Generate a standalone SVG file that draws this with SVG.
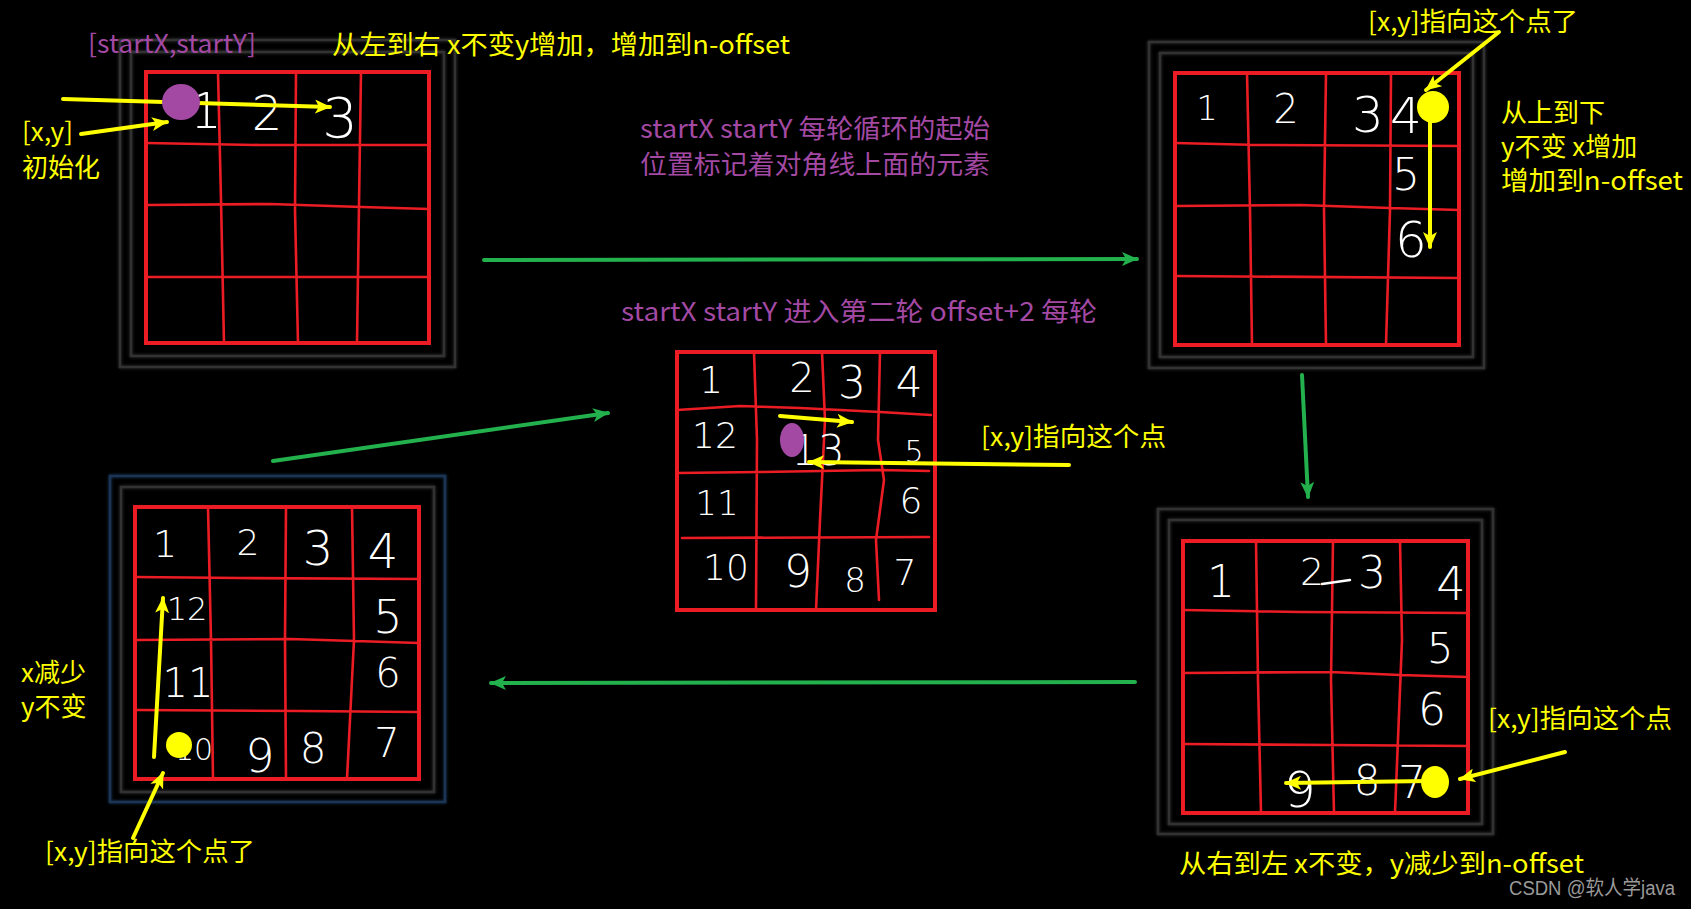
<svg xmlns="http://www.w3.org/2000/svg" width="1691" height="909" viewBox="0 0 1691 909">
<defs>
<filter id="glow" x="-10%" y="-10%" width="120%" height="120%">
<feGaussianBlur in="SourceGraphic" stdDeviation="1.5" result="b"/>
<feMerge><feMergeNode in="b"/><feMergeNode in="SourceGraphic"/></feMerge>
</filter>
<marker id="ya" viewBox="0 0 16 14" markerWidth="16" markerHeight="14" refX="15" refY="7" orient="auto" markerUnits="userSpaceOnUse">
<path d="M0,0 L16,7 L0,14 L4,7 z" fill="#ffff00"/>
</marker>
<marker id="ga" viewBox="0 0 16 14" markerWidth="16" markerHeight="14" refX="15" refY="7" orient="auto" markerUnits="userSpaceOnUse">
<path d="M0,0 L16,7 L0,14 L4,7 z" fill="#22b14c"/>
</marker>
</defs>
<style>
.frame{fill:none;stroke:#333333;stroke-width:2.5;filter:url(#glow)}
.frameb{fill:none;stroke:#1c3554;stroke-width:2.5;filter:url(#glow)}
.grid{fill:none;stroke:#ec1c24;stroke-width:4}
.gl{fill:none;stroke:#ec1c24;stroke-width:2.6;stroke-linejoin:round;stroke-linecap:round}
.dg{fill:#ffffff;font-family:"DejaVu Sans","Liberation Sans",sans-serif;font-weight:200;text-anchor:middle}
.ylw{fill:#ffff00;font-family:"Noto Sans CJK SC","Noto Sans",sans-serif;font-size:26px}
.pur{fill:#a349a4;font-family:"Noto Sans CJK SC","Noto Sans",sans-serif;font-size:26px}
.ya{fill:none;stroke:#ffff00;stroke-width:4;stroke-linecap:round;marker-end:url(#ya)}
.ga{fill:none;stroke:#22b14c;stroke-width:4;stroke-linecap:round;marker-end:url(#ga)}
</style>
<rect width="1691" height="909" fill="#000"/>

<g id="panel1">
<rect class="frame" x="120" y="40" width="335" height="327"/>
<rect class="frame" x="131" y="52" width="313" height="304"/>
<rect class="grid" x="146" y="72" width="283" height="271"/>
<path class="gl" d="M218,72 L221,200 L224,343 M296,72 L295,210 L298,343 M361,72 L359,205 L357,343 M146,143 L260,145 L429,145 M146,205 L270,204 L362,207 L429,209 M146,277 L300,277 L429,277"/>
<text class="dg" x="206" y="128" font-size="50">1</text>
<text class="dg" x="267" y="130" font-size="48">2</text>
<text class="dg" x="340" y="137" font-size="56">3</text>
<path class="ya" d="M63,99 L330,107"/>
<path class="ya" d="M81,134 L167,122"/>
<ellipse cx="181" cy="102" rx="19" ry="18" fill="#a349a4"/>
<text class="pur" x="88" y="53" textLength="168" lengthAdjust="spacingAndGlyphs">[startX,startY]</text>
<text class="ylw" x="332" y="54" textLength="458" lengthAdjust="spacingAndGlyphs">从左到右 x不变y增加，增加到n-offset</text>
<text class="ylw" x="22" y="141">[x,y]</text>
<text class="ylw" x="22" y="177">初始化</text>
</g>

<g id="panel2">
<rect class="frame" x="1149" y="42" width="335" height="326"/>
<rect class="frame" x="1160" y="53" width="313" height="304"/>
<rect class="grid" x="1175" y="73" width="284" height="272"/>
<path class="gl" d="M1247,73 L1250,210 L1252,345 M1326,73 L1324,210 L1326,345 M1391,73 L1390,210 L1386,345 M1175,143 L1260,145 L1459,146 M1175,206 L1300,205 L1390,208 L1459,210 M1175,276 L1459,278"/>
<text class="dg" x="1207" y="120" font-size="34">1</text>
<text class="dg" x="1286" y="123" font-size="40">2</text>
<text class="dg" x="1368" y="132" font-size="50">3</text>
<text class="dg" x="1406" y="133" font-size="50">4</text>
<text class="dg" x="1406" y="190" font-size="44">5</text>
<text class="dg" x="1411" y="257" font-size="50">6</text>
<circle cx="1433" cy="107" r="16" fill="#ffff00"/>
<path class="ya" d="M1430,110 L1430,247"/>
<path class="ya" d="M1499,32 L1426,90"/>
<text class="ylw" x="1368" y="31" textLength="210" lengthAdjust="spacingAndGlyphs">[x,y]指向这个点了</text>
<text class="ylw" x="1501" y="122">从上到下</text>
<text class="ylw" x="1501" y="156">y不变 x增加</text>
<text class="ylw" x="1501" y="190" textLength="182" lengthAdjust="spacingAndGlyphs">增加到n-offset</text>
</g>

<g id="center">
<rect class="grid" x="677" y="352" width="258" height="258"/>
<path class="gl" d="M754,352 L757,440 L756,610 M822,352 L825,420 L820,520 L816,610 M880,352 L878,440 L884,480 L876,540 L879,600 M677,410 L740,406 L800,408 L880,412 L931,415 M677,473 L760,472 L880,470 L929,471 M682,538 L929,537"/>
<text class="dg" x="711" y="393" font-size="38">1</text>
<text class="dg" x="802" y="392" font-size="40">2</text>
<text class="dg" x="852" y="398" font-size="44">3</text>
<text class="dg" x="909" y="397" font-size="42">4</text>
<text class="dg" x="715" y="448" font-size="36">12</text>
<text class="dg" x="818" y="465" font-size="42">13</text>
<text class="dg" x="914" y="462" font-size="30">5</text>
<text class="dg" x="717" y="515" font-size="34">11</text>
<text class="dg" x="911" y="513" font-size="36">6</text>
<text class="dg" x="726" y="580" font-size="36">10</text>
<text class="dg" x="798" y="587" font-size="44">9</text>
<text class="dg" x="855" y="592" font-size="34">8</text>
<text class="dg" x="905" y="585" font-size="36">7</text>
<ellipse cx="792" cy="440" rx="12" ry="17" fill="#a349a4"/>
<path class="ya" d="M780,416 L852,422"/>
<path class="ya" d="M1069,465 L809,462"/>
<text class="ylw" x="981" y="446" textLength="185" lengthAdjust="spacingAndGlyphs">[x,y]指向这个点</text>
<text class="pur" x="640" y="138" textLength="350" lengthAdjust="spacingAndGlyphs">startX startY 每轮循环的起始</text>
<text class="pur" x="640" y="174" textLength="350" lengthAdjust="spacingAndGlyphs">位置标记着对角线上面的元素</text>
<text class="pur" x="621" y="321" textLength="476" lengthAdjust="spacingAndGlyphs">startX startY 进入第二轮 offset+2 每轮</text>
</g>

<g id="panel4">
<rect class="frameb" x="110" y="476" width="335" height="326"/>
<rect class="frame" x="121" y="487" width="313" height="305"/>
<rect class="grid" x="135" y="507" width="284" height="272"/>
<path class="gl" d="M208,507 L211,640 L213,779 M286,507 L285,640 L286,779 M352,507 L354,640 L347,779 M135,577 L240,578 L419,579 M135,640 L290,639 L355,641 L419,643 M137,710 L300,711 L419,712"/>
<text class="dg" x="165" y="557" font-size="38">1</text>
<text class="dg" x="248" y="555" font-size="36">2</text>
<text class="dg" x="318" y="565" font-size="48">3</text>
<text class="dg" x="383" y="568" font-size="48">4</text>
<text class="dg" x="187" y="620" font-size="32">12</text>
<text class="dg" x="388" y="633" font-size="46">5</text>
<text class="dg" x="188" y="697" font-size="40">11</text>
<text class="dg" x="388" y="687" font-size="40">6</text>
<text class="dg" x="194" y="760" font-size="30">10</text>
<text class="dg" x="260" y="772" font-size="46">9</text>
<text class="dg" x="313" y="763" font-size="42">8</text>
<text class="dg" x="387" y="757" font-size="40">7</text>
<circle cx="179" cy="745" r="13" fill="#ffff00"/>
<path class="ya" d="M154,757 L163,598"/>
<path class="ya" d="M133,838 L163,773"/>
<text class="ylw" x="21" y="682">x减少</text>
<text class="ylw" x="21" y="716">y不变</text>
<text class="ylw" x="45" y="861" textLength="210" lengthAdjust="spacingAndGlyphs">[x,y]指向这个点了</text>
</g>

<g id="panel3">
<rect class="frame" x="1158" y="509" width="335" height="325"/>
<rect class="frame" x="1169" y="520" width="313" height="304"/>
<rect class="grid" x="1183" y="541" width="285" height="272"/>
<path class="gl" d="M1256,541 L1258,680 L1261,813 M1333,541 L1331,680 L1334,813 M1400,541 L1402,640 L1395,813 M1183,610 L1300,612 L1468,613 M1183,673 L1330,672 L1400,675 L1468,677 M1183,744 L1330,745 L1468,746"/>
<text class="dg" x="1221" y="597" font-size="44">1</text>
<text class="dg" x="1312" y="585" font-size="38">2</text>
<path d="M1322,584 L1350,580" stroke="#fff" stroke-width="2.5" stroke-linecap="round"/>
<text class="dg" x="1372" y="588" font-size="44">3</text>
<text class="dg" x="1451" y="600" font-size="46">4</text>
<text class="dg" x="1440" y="663" font-size="42">5</text>
<text class="dg" x="1432" y="725" font-size="44">6</text>
<text class="dg" x="1300" y="807" font-size="50">9</text>
<text class="dg" x="1367" y="795" font-size="42">8</text>
<text class="dg" x="1412" y="798" font-size="44">7</text>
<ellipse cx="1435" cy="782" rx="14" ry="16" fill="#ffff00"/>
<path class="ya" d="M1428,781 L1286,783"/>
<path class="ya" d="M1565,752 L1460,779"/>
<text class="ylw" x="1488" y="728" textLength="184" lengthAdjust="spacingAndGlyphs">[x,y]指向这个点</text>
<text class="ylw" x="1179" y="873" textLength="405" lengthAdjust="spacingAndGlyphs">从右到左 x不变，y减少到n-offset</text>
</g>

<g id="connectors">
<path class="ga" d="M484,260 L1137,259"/>
<path class="ga" d="M1302,375 L1308,497"/>
<path class="ga" d="M1135,682 L491,683"/>
<path class="ga" d="M273,461 L608,413"/>
</g>

<text x="1509" y="895" fill="#9a9a9a" font-family="'Liberation Sans','Noto Sans CJK SC',sans-serif" font-size="20" textLength="166" lengthAdjust="spacingAndGlyphs">CSDN @软人学java</text>
</svg>
